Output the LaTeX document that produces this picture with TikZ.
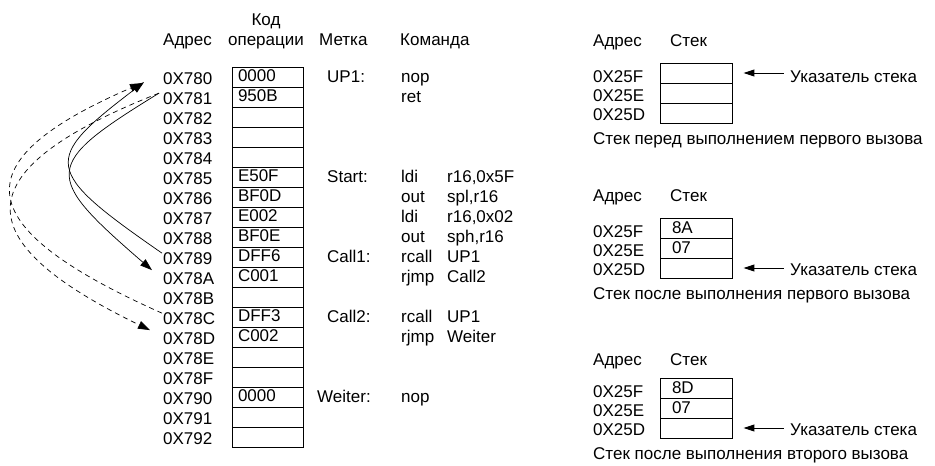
\documentclass[tikz,border=0pt]{standalone}
\usepackage{fontspec}
\setmainfont{Liberation Sans}
\usetikzlibrary{arrows.meta}
\tikzset{>={Triangle[length=12pt,width=8pt]},
  every node/.style={font=\fontsize{17}{19}\selectfont,inner sep=1pt},
  txt/.style={anchor=base west},
  cell/.style={draw,line width=0.9pt,minimum height=20pt,inner xsep=6pt,inner ysep=0pt,
    text width=59pt,text height=12pt,text depth=4pt,align=left},
  stk/.style={cell,inner xsep=12pt,text width=48pt,text depth=2pt},
  call/.style={line width=0.7pt,->},
  back/.style={call,dash pattern=on 5pt off 4pt},
  ptr/.style={line width=1pt,{Triangle[length=11pt,width=7pt]}-}}

\begin{document}
\begin{tikzpicture}[x=1pt,y=-1pt]
  \useasboundingbox (0,0) rectangle (935,466);
  % column heads
  \node[txt] (hAdr) at (162,45) {Адрес};
  \node[anchor=base] (hKod) at (266,25) {Код};
  \node[anchor=base] (hOp) at (266,45) {операции};
  \node[txt] (hMet) at (318,45) {Метка};
  \node[txt] (hCmd) at (399,45) {Команда};
  % program memory
  \foreach \a/\c [count=\i from 0] in {780/0000,781/950B,782/{},783/{},784/{},785/E50F,
      786/BF0D,787/E002,788/BF0E,789/DFF6,78A/C001,78B/{},78C/DFF3,78D/C002,78E/{},
      78F/{},790/0000,791/{},792/{}}{
    \node[txt] (a\a) at (162,84+20*\i) {0X\a};
    \node[cell] (c\a) at (267.5,77+20*\i) {\c};
  }
  \foreach \r/\l in {0/UP1:,5/Start:,9/Call1:,12/Call2:}
    \node[txt] (l\r) at (326,82+20*\r) {\l};
  \node[txt] (l16) at (316,402) {Weiter:};
  \foreach \r/\m in {0/nop,1/ret,5/ldi,6/out,7/ldi,8/out,9/rcall,10/rjmp,12/rcall,13/rjmp,16/nop}
    \node[txt] (m\r) at (400,82+20*\r) {\m};
  \foreach \r/\o in {5/{r16,0x5F},6/{spl,r16},7/{r16,0x02},8/{sph,r16},9/UP1,10/Call2,12/UP1,13/Weiter}
    \node[txt] (o\r) at (446,82+20*\r) {\o};
  % calls and returns
  \draw[call] ([yshift=5pt]a789.west) .. controls (42,170) and (42,160) .. ([shift={(-18pt,-4pt)}]a780.west);
  \draw[call] ([xshift=-3pt,yshift=5pt]a781.west) .. controls (42,165) and (42,175) .. ([shift={(-10pt,8pt)}]a78A.west);
  \draw[back] ([yshift=5pt]a78C.west) .. controls (-36,225) and (-36,160) .. ([shift={(-20pt,-5pt)}]a780.west);
  \draw[back] ([xshift=-3pt,yshift=5pt]a781.west) .. controls (-36,170) and (-36,240) .. ([shift={(-12pt,8pt)}]a78D.west);
  % stack snapshots
  \foreach \p/\h/\b/\va/\vb/\r/\cap in {1/46/63/{}/{}/1/{Стек перед выполнением первого вызова},
      2/201/218/8A/07/3/{Стек после выполнения первого вызова},
      3/365/378/8D/07/3/{Стек после выполнения второго вызова}}{
    \node[txt] (sA\p) at (592,\h) {Адрес};
    \node[txt] (sS\p) at (669,\h) {Стек};
    \node[stk] (s\p1) at (696,\b+10) {\va};
    \node[stk] (s\p2) at (696,\b+30) {\vb};
    \node[stk] (s\p3) at (696,\b+50) {};
    \node[txt] (sF\p) at (592,\b+19) {0X25F};
    \node[txt] (sE\p) at (592,\b+38) {0X25E};
    \node[txt] (sD\p) at (592,\b+57) {0X25D};
    \node[txt] (sP\p) at (789,\b+19*\r) {Указатель стека};
    \draw[ptr] ([xshift=11pt]s\p\r.east) -- ([xshift=-5pt]sP\p.west |- s\p\r.east);
    \node[txt] (sC\p) at (592,\b+81) {\cap};
  }
\end{tikzpicture}
\end{document}
